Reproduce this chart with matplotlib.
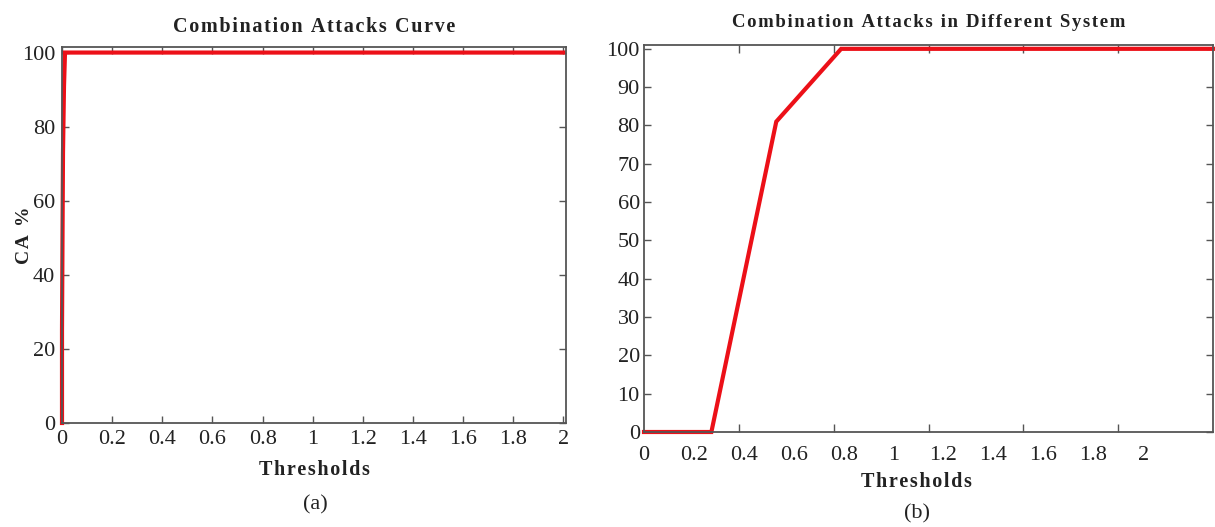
import matplotlib
matplotlib.use("Agg")
import matplotlib.pyplot as plt
import numpy as np
from matplotlib.ticker import FixedLocator, NullFormatter

# ---- data ----
a_thresholds = [0.0, 0.0, 0.002, 0.004, 0.006, 0.008, 0.012, 2.0]
a_ca = [0, 25, 50, 73, 82, 91, 100, 100]
a_xticks = [0, 0.2, 0.4, 0.6, 0.8, 1.0, 1.2, 1.4, 1.6, 1.8, 2.0]
a_xticklabels = ["0", "0.2", "0.4", "0.6", "0.8", "1", "1.2", "1.4", "1.6", "1.8", "2"]
a_yticks = [0, 20, 40, 60, 80, 100]

b_thresholds = [0.0, 0.27, 0.53, 0.79, 2.28]
b_ca = [0, 0, 81, 100, 100]
b_xticks = [0, 0.2, 0.4, 0.6, 0.8, 1.0, 1.2, 1.4, 1.6, 1.8, 2.0]
b_xticklabels = ["0", "0.2", "0.4", "0.6", "0.8", "1", "1.2", "1.4", "1.6", "1.8", "2"]
b_tickmarks = [0.38, 0.76, 1.14, 1.52, 1.90]
b_yticks = [0, 10, 20, 30, 40, 50, 60, 70, 80, 90, 100]

titles = ["Combination Attacks Curve", "Combination Attacks in Different System"]
xlabel = "Thresholds"
ylabel = "CA %"
captions = ["(a)", "(b)"]

plt.rcParams['font.family'] = ['Liberation Serif', 'DejaVu Serif']
W, H = 1215, 527
fig = plt.figure(figsize=(W / 100, H / 100), dpi=100)

red = "#ec1018"
axcol = "#555555"
txtcol = "#222222"

HAIR = "\u200a"

def spaced(s):
    return HAIR.join(s)

def style(ax):
    for s in ax.spines.values():
        s.set_color(axcol)
        s.set_linewidth(1.3)
    ax.tick_params(which="both", direction="in", top=True, right=True,
                   color=axcol, labelsize=16, labelcolor=txtcol, pad=3)

# ---- panel (a) ----
ax1 = fig.add_axes([62 / W, 1 - 423 / H, (566 - 62) / W, (423 - 47) / H])
ax1.plot(a_thresholds, a_ca, color=red, lw=3, clip_on=False, solid_joinstyle="miter")
ax1.set_xlim(0, 2.01)
ax1.set_ylim(0, 101.5)
ax1.set_xticks(a_xticks)
ax1.set_xticklabels(a_xticklabels)
ax1.set_yticks(a_yticks)
style(ax1)
ax1.tick_params(which="major", length=5, width=1)
ax1.tick_params(axis="y", pad=5)
ax1.tick_params(axis="x", pad=5)
ax1.set_title(spaced(titles[0]), fontsize=14.5, fontweight="bold", color=txtcol, pad=11)
ax1.set_xlabel(spaced(xlabel), fontsize=14.5, fontweight="bold", color=txtcol, labelpad=8)
ax1.set_ylabel(spaced(ylabel), fontsize=14, fontweight="bold", color=txtcol, labelpad=-8)
fig.text(315 / W, 1 - 505 / H, captions[0], fontsize=16, color=txtcol,
         ha="center", va="center")

# ---- panel (b) ----
ax2 = fig.add_axes([644 / W, 1 - 432 / H, (1213 - 644) / W, (432 - 45) / H])
ax2.plot(b_thresholds, b_ca, color=red, lw=3, clip_on=False, solid_joinstyle="miter")
ax2.set_xlim(0, 2.28)
ax2.set_ylim(0, 101)
ax2.set_xticks(b_xticks)
ax2.set_xticklabels(b_xticklabels)
ax2.xaxis.set_minor_locator(FixedLocator(b_tickmarks))
ax2.xaxis.set_minor_formatter(NullFormatter())
ax2.set_yticks(b_yticks)
style(ax2)
ax2.tick_params(axis="x", which="major", length=0, pad=10)
ax2.tick_params(axis="x", which="minor", length=6, width=1)
ax2.tick_params(axis="y", which="major", length=5, width=1, pad=3)
ax2.set_title(spaced(titles[1]), fontsize=13.5, fontweight="bold", color=txtcol, pad=13)
ax2.set_xlabel(spaced(xlabel), fontsize=14.5, fontweight="bold", color=txtcol, labelpad=8)
ax2.xaxis.set_label_coords((916 - 644) / (1213 - 644), -0.13)
ax2.xaxis.label.set_va("center")
fig.text(917 / W, 1 - 514 / H, captions[1], fontsize=16, color=txtcol,
         ha="center", va="center")

fig.savefig("out.png", dpi=100)
